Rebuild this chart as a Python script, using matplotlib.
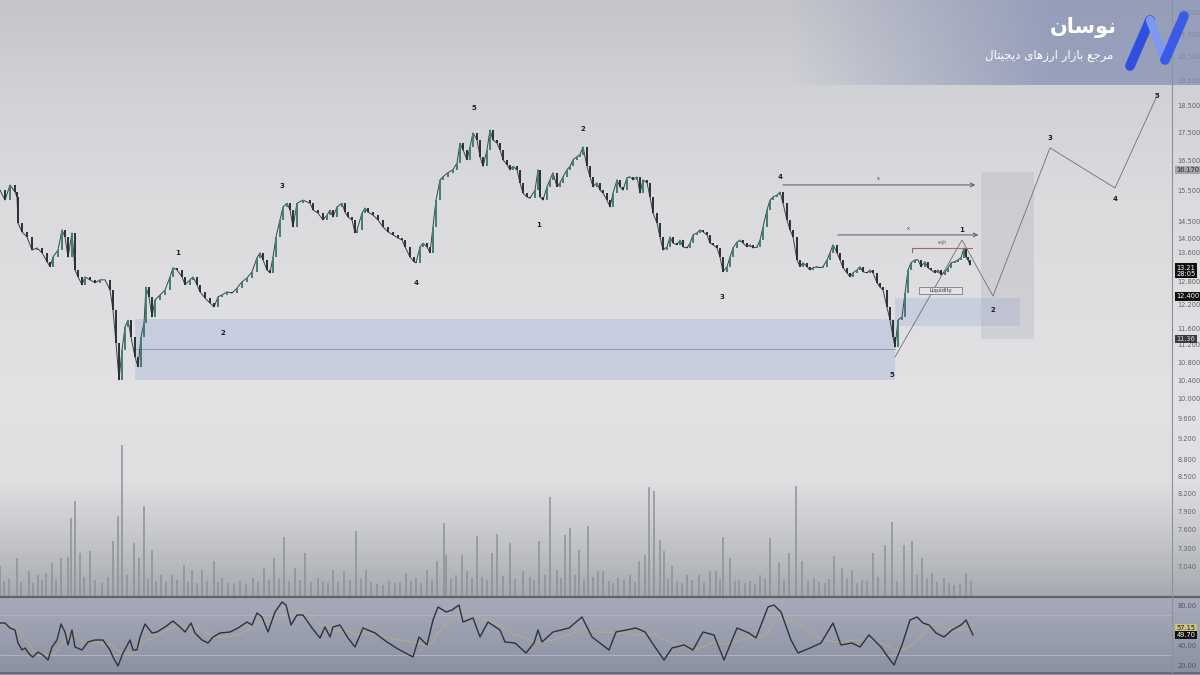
import numpy as np
import pandas as pd
import matplotlib
matplotlib.use("Agg")
import matplotlib.pyplot as plt
from matplotlib.colors import to_rgb
from matplotlib.patches import Rectangle
from matplotlib.ticker import NullLocator, FixedLocator

# ---- data (bar index ~ one pixel per bar) ----
price_bar = [0, 5, 10, 15, 17, 18, 22, 27, 32, 37,
             42, 47, 50, 53, 58, 62, 65, 68, 72, 75,
             78, 82, 85, 90, 95, 100, 105, 110, 113, 116,
             119, 122, 125, 128, 131, 135, 138, 141, 144, 146,
             149, 152, 155, 160, 165, 170, 173, 177, 182, 185,
             190, 193, 197, 200, 205, 210, 214, 218, 222, 227,
             232, 237, 242, 247, 252, 257, 260, 263, 267, 270,
             273, 276, 280, 283, 287, 290, 293, 297, 303, 310,
             313, 318, 323, 327, 330, 333, 337, 342, 345, 348,
             352, 355, 357, 362, 365, 368, 373, 378, 383, 388,
             393, 398, 402, 405, 410, 414, 416, 420, 423, 427,
             430, 433, 436, 440, 443, 448, 453, 457, 460, 463,
             467, 470, 473, 477, 480, 483, 487, 490, 493, 497,
             500, 503, 507, 510, 513, 517, 520, 523, 527, 530,
             535, 538, 540, 543, 547, 550, 553, 557, 560, 563,
             567, 570, 573, 577, 580, 583, 587, 590, 593, 597,
             600, 603, 607, 610, 613, 617, 620, 623, 627, 630,
             633, 637, 640, 643, 647, 650, 653, 657, 660, 663,
             667, 670, 673, 677, 680, 683, 687, 690, 693, 697,
             700, 703, 707, 710, 713, 717, 720, 723, 727, 730,
             733, 737, 740, 743, 747, 750, 753, 757, 760, 763,
             767, 770, 773, 777, 780, 783, 787, 790, 793, 797,
             800, 803, 807, 810, 813, 817, 820, 823, 827, 830,
             833, 837, 840, 843, 847, 850, 853, 857, 860, 863,
             867, 870, 873, 877, 880, 883, 887, 890, 893, 895,
             898, 902, 905, 908, 911, 915, 918, 921, 925, 928,
             931, 935, 938, 941, 945, 948, 951, 955, 958, 961,
             964, 966, 968, 970]
price_close = [15.50, 15.18, 15.67, 15.44, 15.28, 14.47, 14.20, 14.05, 13.67, 13.73,
               13.59, 13.34, 13.20, 13.47, 13.67, 14.26, 14.05, 13.47, 14.17, 13.11,
               12.92, 12.71, 12.92, 12.84, 12.76, 12.84, 12.84, 12.57, 12.05, 11.25,
               10.41, 11.08, 11.63, 11.80, 11.39, 10.92, 10.70, 11.39, 11.73, 12.65,
               12.39, 11.88, 12.31, 12.44, 12.57, 12.92, 13.17, 13.11, 12.92, 12.71,
               12.84, 12.92, 12.71, 12.52, 12.36, 12.23, 12.13, 12.39, 12.44, 12.52,
               12.49, 12.62, 12.79, 12.89, 13.06, 13.45, 13.59, 13.39, 13.11, 13.03,
               13.47, 14.05, 14.56, 14.96, 15.08, 14.87, 14.35, 15.08, 15.18, 15.08,
               14.87, 14.77, 14.56, 14.71, 14.87, 14.65, 14.96, 15.08, 14.80, 14.65,
               14.56, 14.17, 14.26, 14.77, 14.93, 14.80, 14.71, 14.56, 14.35, 14.20,
               14.11, 14.02, 13.96, 13.76, 13.47, 13.34, 13.31, 13.76, 13.87, 13.76,
               13.59, 14.35, 15.18, 15.84, 15.94, 16.08, 16.18, 16.41, 17.11, 16.87,
               16.52, 16.97, 17.48, 17.22, 16.63, 16.29, 16.87, 17.59, 17.22, 17.11,
               16.87, 16.52, 16.35, 16.18, 16.29, 16.18, 15.74, 15.40, 15.28, 15.24,
               15.50, 16.18, 15.28, 15.18, 15.61, 15.84, 16.08, 15.61, 15.74, 15.94,
               16.18, 16.29, 16.52, 16.63, 16.70, 16.97, 16.29, 15.94, 15.61, 15.74,
               15.50, 15.40, 15.18, 14.96, 15.40, 15.84, 15.61, 15.50, 15.91, 15.94,
               15.84, 15.94, 15.40, 15.84, 15.74, 15.28, 14.77, 14.47, 14.05, 13.67,
               13.76, 14.05, 13.87, 13.82, 13.96, 13.76, 13.73, 13.87, 14.11, 14.17,
               14.26, 14.20, 14.11, 13.87, 13.82, 13.73, 13.47, 13.06, 13.20, 13.47,
               13.73, 13.90, 13.96, 13.87, 13.76, 13.82, 13.73, 13.76, 13.96, 14.35,
               14.87, 15.18, 15.28, 15.34, 15.44, 15.08, 14.56, 14.26, 14.05, 13.39,
               13.20, 13.31, 13.20, 13.11, 13.17, 13.20, 13.17, 13.20, 13.39, 13.59,
               13.82, 13.59, 13.39, 13.17, 13.03, 12.92, 13.03, 13.11, 13.20, 13.06,
               13.03, 13.11, 13.03, 12.76, 12.65, 12.57, 12.13, 11.80, 11.39, 11.15,
               11.80, 11.88, 12.49, 13.11, 13.31, 13.39, 13.39, 13.20, 13.34, 13.17,
               13.11, 13.03, 13.11, 12.98, 13.06, 13.17, 13.31, 13.34, 13.39, 13.45,
               13.73, 13.47, 13.39, 13.25]

vol_bar = [0, 4, 9, 17, 21, 29, 33, 38, 42, 46, 52, 56, 61, 68, 71, 75, 80, 84, 90, 95,
           102, 108, 113, 118, 122, 127, 134, 139, 144, 148, 152, 156, 161, 166, 172, 177,
           184, 188, 192, 197, 202, 207, 214, 218, 222, 228, 234, 240, 246, 253, 258, 264,
           269, 274, 279, 284, 289, 295, 300, 305, 311, 318, 323, 328, 333, 338, 344, 350,
           356, 361, 366, 371, 377, 383, 389, 395, 400, 406, 411, 416, 421, 427, 432, 437,
           444, 446, 451, 456, 462, 467, 472, 477, 482, 487, 492, 497, 503, 510, 515, 523,
           530, 534, 539, 545, 550, 557, 561, 565, 570, 575, 579, 584, 588, 593, 598, 603,
           609, 613, 618, 624, 630, 635, 639, 645, 649, 654, 660, 664, 668, 672, 677, 682,
           687, 692, 699, 704, 710, 716, 720, 723, 730, 735, 739, 745, 750, 755, 760, 765,
           770, 779, 784, 789, 796, 802, 808, 814, 819, 825, 829, 834, 842, 847, 852, 857,
           862, 867, 873, 878, 885, 892, 897, 904, 912, 917, 922, 927, 932, 937, 944, 949,
           954, 960, 966, 971]
vol_h = [31, 16, 18, 39, 15, 26, 14, 22, 17, 24, 34, 18, 39, 40, 79, 96, 44, 20, 46, 17,
         14, 20, 56, 81, 152, 22, 54, 39, 91, 18, 47, 16, 22, 15, 22, 17,
         32, 15, 27, 14, 27, 16, 36, 15, 19, 14, 14, 16, 13, 19, 15, 29,
         17, 39, 18, 60, 16, 29, 17, 44, 15, 19, 16, 14, 27, 15, 26, 17,
         66, 18, 27, 15, 13, 12, 16, 14, 15, 24, 16, 19, 14, 27, 17, 36,
         74, 42, 18, 22, 42, 26, 19, 61, 20, 17, 44, 63, 21, 54, 18, 26,
         20, 17, 56, 22, 100, 27, 19, 62, 69, 22, 47, 18, 71, 20, 26, 26,
         16, 14, 19, 17, 22, 15, 36, 42, 110, 106, 57, 46, 18, 31, 16, 14,
         22, 17, 22, 15, 26, 26, 18, 60, 39, 16, 17, 14, 16, 13, 22, 18,
         59, 34, 17, 44, 111, 36, 16, 19, 15, 14, 18, 41, 29, 18, 27, 14,
         17, 16, 44, 20, 52, 75, 16, 52, 56, 22, 39, 18, 24, 15, 19, 14,
         12, 13, 24, 16]

rsi_bar = [0, 5, 10, 15, 18, 22, 25, 30, 33, 38, 43, 48, 52, 57, 61, 65, 68, 72, 75, 82,
           88, 95, 103, 110, 113, 118, 123, 130, 133, 137, 140, 145, 152, 157, 165, 173, 180, 185, 191, 195,
           202, 208, 213, 220, 230, 238, 247, 252, 257, 262, 268, 275, 282, 286, 291, 297, 303, 312, 320, 325,
           330, 333, 340, 348, 355, 363, 375, 387, 398, 413, 419, 427, 433, 438, 446, 452, 459, 463, 473, 480,
           488, 500, 505, 515, 526, 534, 538, 542, 553, 569, 582, 592, 609, 616, 626, 636, 645, 655, 664, 672,
           684, 693, 703, 714, 724, 737, 749, 756, 768, 774, 781, 791, 798, 810, 821, 833, 841, 852, 860, 869,
           881, 888, 894, 902, 910, 917, 923, 929, 936, 944, 952, 961, 966, 973]
rsi_val = [62, 62, 57, 55, 42, 35, 37, 30, 28, 33, 30, 25, 38, 45, 61, 53, 40, 55, 38, 35,
           43, 45, 45, 35, 28, 19, 32, 45, 35, 35, 48, 61, 52, 53, 58, 64, 58, 53, 62, 52,
           45, 42, 48, 52, 53, 57, 63, 60, 72, 68, 53, 73, 83, 80, 60, 70, 70, 57, 47, 58,
           48, 58, 60, 47, 38, 57, 52, 43, 36, 28, 48, 40, 65, 78, 73, 75, 80, 63, 67, 48,
           63, 55, 43, 42, 32, 42, 55, 43, 53, 57, 68, 48, 35, 53, 55, 57, 53, 38, 25, 37,
           40, 35, 53, 50, 25, 57, 52, 47, 78, 80, 73, 45, 32, 37, 42, 62, 40, 42, 38, 50,
           38, 28, 20, 40, 65, 68, 62, 60, 52, 48, 55, 60, 65, 50]

# Elliott wave counts
wave_text = ["1", "2", "3", "4", "5", "1", "2", "3", "4", "5", "1", "2", "3", "4", "5"]
wave_bar = [178, 223, 282, 416, 474, 539, 583, 722, 780, 892, 962, 993, 1050, 1115, 1157]
wave_price = [13.59, 11.49, 15.64, 12.76, 18.42, 14.41, 17.63, 12.39, 15.94, 10.52,
              14.26, 12.05, 17.29, 15.22, 18.89]

# projected path
proj_bar = [895, 962, 993, 1050, 1115, 1157]
proj_price = [10.92, 13.96, 12.41, 16.94, 15.57, 18.89]

price_ticks = [22.5, 21.5, 20.5, 19.5, 18.5, 17.5, 16.5, 15.5, 14.5, 14.0, 13.6, 12.8,
               12.2, 11.6, 11.2, 10.8, 10.4, 10.0, 9.6, 9.2, 8.8, 8.5, 8.2, 7.9, 7.6, 7.3, 7.04]
rsi_ticks = [80, 40, 20]

W, H = 1200, 675
AX_R = 1172
PANE_B = 597


def fy(py):
    return 1 - py / H


fig = plt.figure(figsize=(12, 6.75), dpi=100)

# background gradient
bg = fig.add_axes([0, 0, 1, 1])
stops_y = [0, 90, 200, 400, 480, 530, 596, 598, 675]
stops_c = ['#c4c5cb', '#d1d2d6', '#dbdbde', '#e2e2e4', '#dfdfe1', '#c9cacd', '#a6a9af', '#a7abb9', '#8b90a2']
rgb = np.array([to_rgb(c) for c in stops_c])
rows = np.arange(H)
col = np.stack([np.interp(rows, stops_y, rgb[:, k]) for k in range(3)], axis=1)
bg.imshow(np.repeat(col[:, None, :], W, axis=1), extent=[0, W, H, 0], aspect='auto')
bg.set_xlim(0, W)
bg.set_ylim(H, 0)
bg.axis('off')

# volume (under price)
vax = fig.add_axes([0, fy(PANE_B), AX_R / W, PANE_B / H])
vax.bar(vol_bar, vol_h, width=1.5, color='#8c8f95', alpha=0.75)
vax.set_xlim(0, AX_R)
vax.set_ylim(0, PANE_B)
vax.axis('off')

# price pane
ax = fig.add_axes([0, fy(PANE_B), AX_R / W, PANE_B / H])
ax.patch.set_alpha(0)
ax.set_yscale('log')
ax.set_xlim(0, AX_R)
ax.set_ylim(6.60, 23.10)

bars = np.array(price_bar)
close = np.array(price_close)
opn = np.r_[close[0], close[:-1]]
up = close >= opn
lo = np.minimum(opn, close)
hi = np.maximum(opn, close)
ax.plot(bars, close, color='#3b4245', lw=0.7, zorder=4)
ax.vlines(bars[up], lo[up], hi[up], color='#3f7f70', lw=1.4, zorder=5)
ax.vlines(bars[~up], lo[~up], hi[~up], color='#2b3034', lw=1.4, zorder=5)

# zones
ax.add_patch(Rectangle((135, 10.41), 760, 11.83 - 10.41, fc='#a8b5da', alpha=0.42, lw=0, zorder=1))
ax.plot([135, 895], [11.10, 11.10], color='#8a92ae', lw=0.6, zorder=2)
ax.add_patch(Rectangle((895, 11.66), 125, 12.36 - 11.66, fc='#adb8da', alpha=0.42, lw=0, zorder=1))
ax.add_patch(Rectangle((981, 11.34), 53, 16.11 - 11.34, fc='#a3a5ab', alpha=0.25, lw=0, zorder=1))

# levels
arrow = dict(arrowstyle='->', color='#55585f', lw=0.7, mutation_scale=7)
ax.annotate('', xy=(978, 15.67), xytext=(780, 15.67), arrowprops=arrow, zorder=6)
ax.annotate('', xy=(981, 14.11), xytext=(835, 14.11), arrowprops=arrow, zorder=6)
ax.text(878, 15.80, 'x', fontsize=3.5, color='#444', ha='center', va='bottom')
ax.text(908, 14.22, 'x', fontsize=3.5, color='#444', ha='center', va='bottom')
ax.plot([912, 912, 972], [13.60, 13.73, 13.73], color='#9d6a6c', lw=0.8, zorder=6)
ax.text(942, 13.80, 'eqh', fontsize=3.5, color='#7a5a5c', ha='center', va='bottom')
ax.add_patch(Rectangle((919, 12.47), 43, 12.65 - 12.47, fc='#e4e4e7', ec='#7b7d82', lw=0.6, zorder=6))
ax.text(940.5, 12.56, 'Liquidity', fontsize=3.8, color='#333', ha='center', va='center', zorder=7)

ax.plot(proj_bar, proj_price, color='#6d7077', lw=0.6, zorder=3)
for t, b, p in zip(wave_text, wave_bar, wave_price):
    ax.text(b, p, t, fontsize=5, fontweight='bold', color='#1f1f22', ha='center', va='center', zorder=8)

ax.yaxis.tick_right()
ax.yaxis.set_major_locator(FixedLocator(price_ticks))
ax.yaxis.set_minor_locator(NullLocator())
ax.set_yticklabels([f'{v:.3f}' for v in price_ticks])
ax.tick_params(axis='y', length=0, pad=4, labelsize=4.8, labelcolor='#62656d')
ax.set_xticks([])
for s in ax.spines.values():
    s.set_visible(False)

ytr = ax.get_yaxis_transform()
hl = dict(fontsize=4.8, ha='left', va='center', transform=ytr, zorder=9)
ax.text(1.004, 16.17, '16.170', color='#2a2a2a', bbox=dict(boxstyle='square,pad=0.2', fc='#a3a4a9', ec='none'), **hl)
ax.text(1.004, 13.09, '13.21\n28:05', color='white', linespacing=1.0,
        bbox=dict(boxstyle='square,pad=0.2', fc='#111111', ec='none'), **hl)
ax.text(1.004, 12.40, '12.400', color='white', bbox=dict(boxstyle='square,pad=0.2', fc='#111111', ec='none'), **hl)
ax.text(1.004, 11.34, '11.36', color='#dddddd', bbox=dict(boxstyle='square,pad=0.2', fc='#3a3c42', ec='none'), **hl)

# RSI pane
rax = fig.add_axes([0, 0, AX_R / W, (H - 598) / H])
rax.patch.set_alpha(0)
rax.set_xlim(0, AX_R)
rax.set_ylim(10, 87)
for lvl in (70, 30):
    rax.axhline(lvl, color='#b0b4c1', lw=0.7)
sig = pd.Series(rsi_val).rolling(5, min_periods=1).mean()
rax.plot(rsi_bar, sig, color='#bdb57a', lw=0.8, alpha=0.6)
rax.plot(rsi_bar, rsi_val, color='#2d323c', lw=1.0)
rax.yaxis.tick_right()
rax.set_yticks(rsi_ticks)
rax.set_yticklabels([f'{v:.2f}' for v in rsi_ticks])
rax.tick_params(axis='y', length=0, pad=4, labelsize=4.8, labelcolor='#50535c')
rax.set_xticks([])
for s in rax.spines.values():
    s.set_visible(False)
rtr = rax.get_yaxis_transform()
rax.text(1.004, 57.15, '57.15', color='#222', fontsize=4.8, ha='left', va='center', transform=rtr,
         bbox=dict(boxstyle='square,pad=0.2', fc='#c9c27b', ec='none'))
rax.text(1.004, 50.0, '49.70', color='white', fontsize=4.8, ha='left', va='center', transform=rtr,
         bbox=dict(boxstyle='square,pad=0.2', fc='#111111', ec='none'))

# overlay: separators, logo band, logo
ov = fig.add_axes([0, 0, 1, 1])
ov.patch.set_alpha(0)
band = np.zeros((85, W, 4))
band[..., :3] = to_rgb('#8893b4')
band[..., 3] = (np.clip((np.arange(W) - 790) / 260, 0, 1) * 0.78)[None, :]
ov.imshow(band, extent=[0, W, 85, 0], aspect='auto', zorder=1)
ov.plot([0, W], [597, 597], color='#5f6370', lw=1.6, zorder=2)
ov.plot([0, W], [673, 673], color='#5f6370', lw=1.2, zorder=2)
ov.plot([AX_R, AX_R], [0, H], color='#8d9099', lw=0.8, zorder=2)

ov.plot([1130, 1150], [66, 20], color='#2f4fe0', lw=7, solid_capstyle='round', zorder=3)
ov.plot([1150, 1165], [20, 60], color='#7d97f3', lw=6, solid_capstyle='round', zorder=3)
ov.plot([1165, 1184], [60, 16], color='#3a5be6', lw=7, solid_capstyle='round', zorder=3)

title_fa = '\uFEE5\uFE8E\uFEB3\uFEEE\uFEE7'
sub_fa = ('\uFEDD\uFE8E\uFE98\uFEF4\uFEA0\uFEF3\uFEA9 '
          '\uFEEF\uFE8E\uFEEB\uFEAF\uFEAD\uFE8D '
          '\uFEAD\uFE8D\uFEAF\uFE8E\uFE91 '
          '\uFECA\uFE9F\uFEAE\uFEE3')
ov.text(1083, 27, title_fa, family='DejaVu Sans', fontsize=15, fontweight='bold', color='white',
        ha='center', va='center', zorder=4)
ov.text(1113, 56, sub_fa, family='DejaVu Sans', fontsize=8.5, color='white',
        ha='right', va='center', zorder=4)
ov.set_xlim(0, W)
ov.set_ylim(H, 0)
ov.axis('off')

fig.savefig('out.png', dpi=100)
